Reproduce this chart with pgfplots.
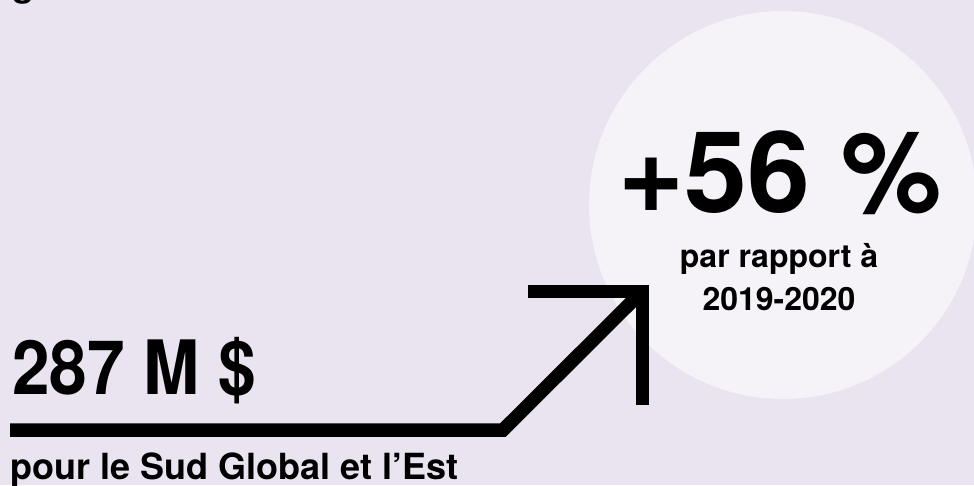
\documentclass[border=0pt]{standalone}
\usepackage{pgfplots}
\pgfplotsset{compat=1.18}
\usepackage{fontspec}
\setmainfont{TeX Gyre Heros}
\definecolor{bg}{HTML}{E9E4F0}
\definecolor{circ}{HTML}{F5F3F8}
\begin{document}
\begin{tikzpicture}
\clip (0,0) rectangle (974pt,485pt);
\begin{axis}[
  at={(0,0)}, anchor=south west,
  scale only axis, width=974pt, height=485pt,
  xmin=0, xmax=974, ymin=0, ymax=485, y dir=reverse,
  axis lines=none, ticks=none,
  axis background/.style={fill=bg},
  clip=false,
]
\fill[circ] (axis cs:783,205) circle [radius=194pt];
% arrow shaft
\addplot[black, line width=13.5pt, line join=miter] coordinates {(10,430) (503,430) (642,291.5)};
% arrow head
\addplot[black, line width=13pt, line join=miter, line cap=butt] coordinates {(528,291.5) (642,291.5) (642,405)};
\node[anchor=base west, inner sep=0pt, font=\fontsize{75}{80}\selectfont\bfseries] at (axis cs:12,394) {\scalebox{0.9}[1]{287 M \$}};
\node[anchor=base west, inner sep=0pt, font=\fontsize{36}{40}\selectfont\bfseries] at (axis cs:10,479) {pour le Sud Global et l’Est};
\node[anchor=base, inner sep=0pt, font=\fontsize{113}{120}\selectfont\bfseries] at (axis cs:780,212) {+56 \%};
\node[anchor=base, inner sep=0pt, font=\fontsize{32}{36}\selectfont\bfseries] at (axis cs:779,267) {par rapport à};
\node[anchor=base, inner sep=0pt, font=\fontsize{32}{36}\selectfont\bfseries] at (axis cs:779,310) {2019-2020};
\node[anchor=base west, inner sep=0pt, font=\fontsize{36}{40}\selectfont\bfseries] at (axis cs:12,-4) {g};
\end{axis}
\end{tikzpicture}
\end{document}
